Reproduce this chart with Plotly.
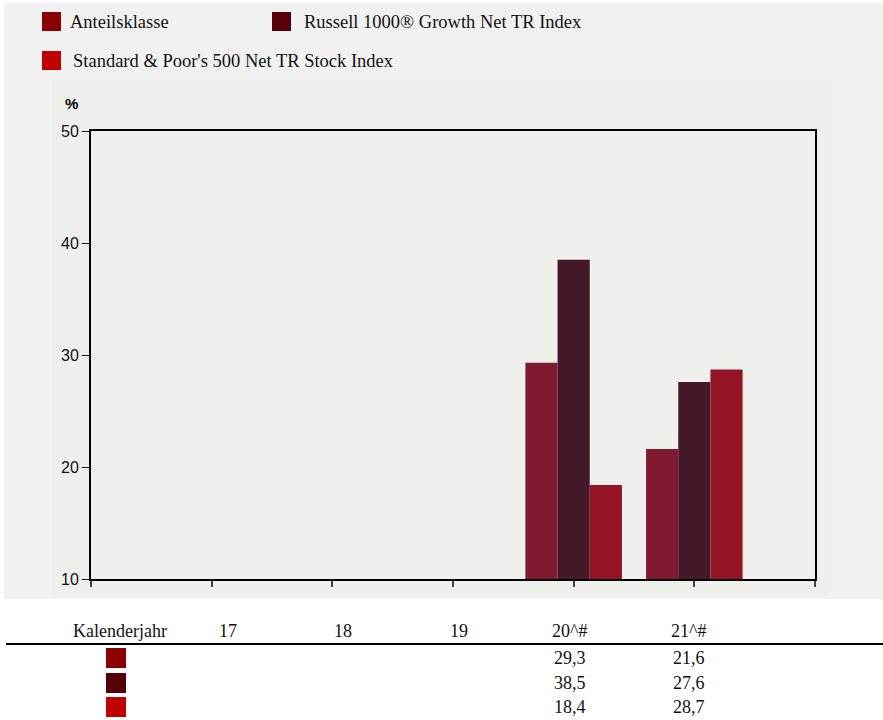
import plotly.graph_objects as go

# Daten
jahre = [17, 18, 19, 20, 21]
spalten = ["17", "18", "19", "20^#", "21^#"]
anteilsklasse = [None, None, None, 29.3, 21.6]
russell = [None, None, None, 38.5, 27.6]
sp500 = [None, None, None, 18.4, 28.7]

namen = ["Anteilsklasse", "Russell 1000® Growth Net TR Index", "Standard & Poor's 500 Net TR Stock Index"]
reihen = [anteilsklasse, russell, sp500]
bar_farben = ["#7f1a32", "#431828", "#941426"]
box_farben = ["#8b0000", "#550008", "#c00000"]

W, H = 883, 720
L, R, T, B = 91, 815, 131, 579  # Plotbereich in Pixeln


def px(x):
    return (x - L) / (R - L)


def py(y):
    return (B - y) / (B - T)


fig = go.Figure()
for name, werte, farbe in zip(namen, reihen, bar_farben):
    fig.add_trace(go.Bar(x=jahre, y=werte, name=name, marker_color=farbe,
                         marker_line_width=0, showlegend=False))

shapes = [
    # aeusserer grauer Hintergrund
    dict(type="rect", xref="paper", yref="paper", x0=px(4), x1=px(883), y0=py(3), y1=py(599),
         fillcolor="#f1f1f1", line_width=0, layer="below"),
    # Diagrammfeld
    dict(type="rect", xref="paper", yref="paper", x0=px(52), x1=px(830), y0=py(80), y1=py(596),
         fillcolor="#efefeb", line_width=0, layer="below"),
    # Tabellenlinie
    dict(type="line", xref="paper", yref="paper", x0=px(6), x1=px(883), y0=py(644), y1=py(644),
         line=dict(color="black", width=2)),
]

annotations = [
    dict(text="<b>%</b>", x=px(63), y=py(104), xref="paper", yref="paper", xanchor="left",
         yanchor="middle", showarrow=False, font=dict(family="Liberation Sans", size=15, color="black")),
]

# Legende (manuell)
leg_pos = [(42, 12, 68), (272, 12, 302), (42, 51, 71)]
for (x0, y0, tx), name, farbe in zip(leg_pos, namen, box_farben):
    shapes.append(dict(type="rect", xref="paper", yref="paper", x0=px(x0), x1=px(x0 + 19),
                       y0=py(y0), y1=py(y0 + 19), fillcolor=farbe, line_width=0))
    annotations.append(dict(text=name, x=px(tx), y=py(y0 + 10), xref="paper", yref="paper",
                            xanchor="left", yanchor="middle", showarrow=False,
                            font=dict(family="Liberation Serif", size=18.5, color="#111")))

# Tabelle
serif = dict(family="Liberation Serif", size=18, color="#111")
annotations.append(dict(text="Kalenderjahr", x=px(71), y=py(631), xref="paper", yref="paper",
                        xanchor="left", yanchor="middle", showarrow=False, font=serif))
mitte = [228, 343, 459, 569, 688]
for s, xc in zip(spalten, mitte):
    annotations.append(dict(text=s, x=px(xc), y=py(631), xref="paper", yref="paper",
                            xanchor="center", yanchor="middle", showarrow=False, font=serif))
zeilen_y = [658, 683, 707]
for werte, farbe, yc in zip(reihen, box_farben, zeilen_y):
    shapes.append(dict(type="rect", xref="paper", yref="paper", x0=px(106), x1=px(126),
                       y0=py(yc - 10), y1=py(yc + 10), fillcolor=farbe, line_width=0))
    for v, xc in zip(werte, mitte):
        if v is None:
            continue
        annotations.append(dict(text=f"{v:.1f}".replace(".", ","), x=px(xc + 1), y=py(yc), xref="paper",
                                yref="paper", xanchor="center", yanchor="middle", showarrow=False, font=serif))

fig.update_layout(
    width=W, height=H,
    margin=dict(l=L, r=W - R, t=T, b=H - B),
    paper_bgcolor="white",
    plot_bgcolor="#efefeb",
    barmode="group",
    bargap=0.2,
    bargroupgap=0,
    shapes=shapes,
    annotations=annotations,
    xaxis=dict(range=[16, 22], tickvals=[16, 17, 18, 19, 20, 21, 22], showticklabels=False,
               ticks="outside", ticklen=6, tickcolor="#444", tickwidth=1.5,
               showline=True, linecolor="black", linewidth=2, mirror=True,
               showgrid=False, zeroline=False),
    yaxis=dict(range=[10, 50], tickvals=[10, 20, 30, 40, 50], ticks="outside", ticklen=7,
               tickcolor="black", tickwidth=1, showline=True, linecolor="black", linewidth=2,
               mirror=True, showgrid=False, zeroline=False,
               tickfont=dict(family="Liberation Sans", size=16, color="#111")),
)

fig.write_html("out.html", config={"displayModeBar": False},
               post_script="document.body.style.margin='0px';")
